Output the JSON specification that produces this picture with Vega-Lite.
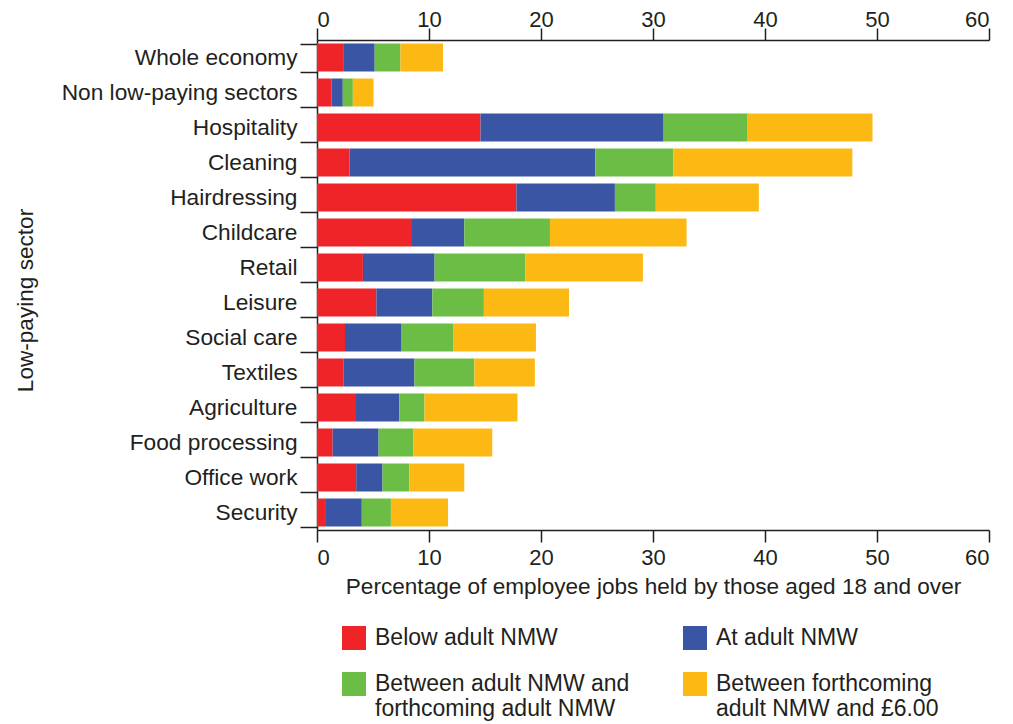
{
  "$schema": "https://vega.github.io/schema/vega-lite/v6.json",
  "width": 672,
  "height": 490,
  "autosize": "none",
  "padding": {"left": 317, "top": 40, "right": 24, "bottom": 194},
  "config": {
    "font": "Liberation Sans",
    "view": {"stroke": null},
    "axis": {
      "labelFont": "Liberation Sans",
      "titleFont": "Liberation Sans",
      "labelFontSize": 22,
      "titleFontSize": 22.6,
      "titleFontWeight": "normal",
      "labelColor": "#231f20",
      "titleColor": "#231f20",
      "domainColor": "#231f20",
      "domainWidth": 1.5,
      "tickColor": "#231f20",
      "tickWidth": 1.5,
      "grid": false
    },
    "legend": {
      "labelFont": "Liberation Sans",
      "labelFontSize": 23,
      "labelColor": "#231f20"
    }
  },
  "data": {
    "values": [
      {"sector": "Whole economy", "band": "Below adult NMW", "pct": 2.4, "seg": 1},
      {"sector": "Whole economy", "band": "At adult NMW", "pct": 2.75, "seg": 2},
      {"sector": "Whole economy", "band": "Between adult NMW and forthcoming adult NMW", "pct": 2.3, "seg": 3},
      {"sector": "Whole economy", "band": "Between forthcoming adult NMW and £6.00", "pct": 3.8, "seg": 4},
      {"sector": "Non low-paying sectors", "band": "Below adult NMW", "pct": 1.3, "seg": 1},
      {"sector": "Non low-paying sectors", "band": "At adult NMW", "pct": 1.0, "seg": 2},
      {"sector": "Non low-paying sectors", "band": "Between adult NMW and forthcoming adult NMW", "pct": 0.9, "seg": 3},
      {"sector": "Non low-paying sectors", "band": "Between forthcoming adult NMW and £6.00", "pct": 1.85, "seg": 4},
      {"sector": "Hospitality", "band": "Below adult NMW", "pct": 14.6, "seg": 1},
      {"sector": "Hospitality", "band": "At adult NMW", "pct": 16.35, "seg": 2},
      {"sector": "Hospitality", "band": "Between adult NMW and forthcoming adult NMW", "pct": 7.5, "seg": 3},
      {"sector": "Hospitality", "band": "Between forthcoming adult NMW and £6.00", "pct": 11.15, "seg": 4},
      {"sector": "Cleaning", "band": "Below adult NMW", "pct": 2.9, "seg": 1},
      {"sector": "Cleaning", "band": "At adult NMW", "pct": 21.95, "seg": 2},
      {"sector": "Cleaning", "band": "Between adult NMW and forthcoming adult NMW", "pct": 6.95, "seg": 3},
      {"sector": "Cleaning", "band": "Between forthcoming adult NMW and £6.00", "pct": 16.0, "seg": 4},
      {"sector": "Hairdressing", "band": "Below adult NMW", "pct": 17.8, "seg": 1},
      {"sector": "Hairdressing", "band": "At adult NMW", "pct": 8.8, "seg": 2},
      {"sector": "Hairdressing", "band": "Between adult NMW and forthcoming adult NMW", "pct": 3.65, "seg": 3},
      {"sector": "Hairdressing", "band": "Between forthcoming adult NMW and £6.00", "pct": 9.2, "seg": 4},
      {"sector": "Childcare", "band": "Below adult NMW", "pct": 8.4, "seg": 1},
      {"sector": "Childcare", "band": "At adult NMW", "pct": 4.75, "seg": 2},
      {"sector": "Childcare", "band": "Between adult NMW and forthcoming adult NMW", "pct": 7.65, "seg": 3},
      {"sector": "Childcare", "band": "Between forthcoming adult NMW and £6.00", "pct": 12.2, "seg": 4},
      {"sector": "Retail", "band": "Below adult NMW", "pct": 4.1, "seg": 1},
      {"sector": "Retail", "band": "At adult NMW", "pct": 6.4, "seg": 2},
      {"sector": "Retail", "band": "Between adult NMW and forthcoming adult NMW", "pct": 8.1, "seg": 3},
      {"sector": "Retail", "band": "Between forthcoming adult NMW and £6.00", "pct": 10.5, "seg": 4},
      {"sector": "Leisure", "band": "Below adult NMW", "pct": 5.3, "seg": 1},
      {"sector": "Leisure", "band": "At adult NMW", "pct": 5.0, "seg": 2},
      {"sector": "Leisure", "band": "Between adult NMW and forthcoming adult NMW", "pct": 4.6, "seg": 3},
      {"sector": "Leisure", "band": "Between forthcoming adult NMW and £6.00", "pct": 7.6, "seg": 4},
      {"sector": "Social care", "band": "Below adult NMW", "pct": 2.5, "seg": 1},
      {"sector": "Social care", "band": "At adult NMW", "pct": 5.0, "seg": 2},
      {"sector": "Social care", "band": "Between adult NMW and forthcoming adult NMW", "pct": 4.65, "seg": 3},
      {"sector": "Social care", "band": "Between forthcoming adult NMW and £6.00", "pct": 7.4, "seg": 4},
      {"sector": "Textiles", "band": "Below adult NMW", "pct": 2.35, "seg": 1},
      {"sector": "Textiles", "band": "At adult NMW", "pct": 6.35, "seg": 2},
      {"sector": "Textiles", "band": "Between adult NMW and forthcoming adult NMW", "pct": 5.35, "seg": 3},
      {"sector": "Textiles", "band": "Between forthcoming adult NMW and £6.00", "pct": 5.4, "seg": 4},
      {"sector": "Agriculture", "band": "Below adult NMW", "pct": 3.4, "seg": 1},
      {"sector": "Agriculture", "band": "At adult NMW", "pct": 3.95, "seg": 2},
      {"sector": "Agriculture", "band": "Between adult NMW and forthcoming adult NMW", "pct": 2.25, "seg": 3},
      {"sector": "Agriculture", "band": "Between forthcoming adult NMW and £6.00", "pct": 8.3, "seg": 4},
      {"sector": "Food processing", "band": "Below adult NMW", "pct": 1.4, "seg": 1},
      {"sector": "Food processing", "band": "At adult NMW", "pct": 4.1, "seg": 2},
      {"sector": "Food processing", "band": "Between adult NMW and forthcoming adult NMW", "pct": 3.1, "seg": 3},
      {"sector": "Food processing", "band": "Between forthcoming adult NMW and £6.00", "pct": 7.05, "seg": 4},
      {"sector": "Office work", "band": "Below adult NMW", "pct": 3.5, "seg": 1},
      {"sector": "Office work", "band": "At adult NMW", "pct": 2.35, "seg": 2},
      {"sector": "Office work", "band": "Between adult NMW and forthcoming adult NMW", "pct": 2.4, "seg": 3},
      {"sector": "Office work", "band": "Between forthcoming adult NMW and £6.00", "pct": 4.9, "seg": 4},
      {"sector": "Security", "band": "Below adult NMW", "pct": 0.8, "seg": 1},
      {"sector": "Security", "band": "At adult NMW", "pct": 3.2, "seg": 2},
      {"sector": "Security", "band": "Between adult NMW and forthcoming adult NMW", "pct": 2.6, "seg": 3},
      {"sector": "Security", "band": "Between forthcoming adult NMW and £6.00", "pct": 5.1, "seg": 4}
    ]
  },
  "encoding": {
    "y": {
      "field": "sector",
      "type": "nominal",
      "sort": ["Whole economy", "Non low-paying sectors", "Hospitality", "Cleaning", "Hairdressing", "Childcare", "Retail", "Leisure", "Social care", "Textiles", "Agriculture", "Food processing", "Office work", "Security"],
      "scale": {"paddingInner": 0.2, "paddingOuter": 0.1},
      "axis": {
        "title": "Low-paying sector",
        "tickBand": "extent",
        "tickSize": 17,
        "labelPadding": 3,
        "labelFontSize": 22.7,
        "titleAngle": -90,
        "titleX": -292,
        "titleY": 260,
        "titleAlign": "center",
        "titleBaseline": "middle",
        "labelLimit": 400
      }
    }
  },
  "layer": [
    {
      "mark": {"type": "bar"},
      "encoding": {
        "x": {
          "field": "pct",
          "type": "quantitative",
          "stack": "zero",
          "scale": {"domain": [0, 60], "nice": false},
          "axis": {
            "orient": "bottom",
            "values": [0, 10, 20, 30, 40, 50, 60],
            "tickSize": 12,
            "labelPadding": 5,
            "title": "Percentage of employee jobs held by those aged 18 and over",
            "titleX": 336,
            "titleY": 56,
            "titleAlign": "center",
            "titleBaseline": "middle"
          }
        },
        "color": {
          "field": "band",
          "type": "nominal",
          "scale": {
            "domain": ["Below adult NMW", "At adult NMW", "Between adult NMW and forthcoming adult NMW", "Between forthcoming adult NMW and £6.00"],
            "range": ["#EE2428", "#3A55A4", "#6CBD45", "#FDB913"]
          },
          "legend": {
            "title": null,
            "orient": "none",
            "direction": "horizontal",
            "legendX": 25,
            "legendY": 586,
            "columns": 2,
            "columnPadding": 53,
            "rowPadding": 22,
            "padding": 0,
            "symbolType": "square",
            "symbolSize": 576,
            "symbolStrokeWidth": 0,
            "labelOffset": 9,
            "labelLimit": 400,
            "labelBaseline": "middle",
            "labelExpr": "datum.label == 'Between adult NMW and forthcoming adult NMW' ? ['Between adult NMW and', 'forthcoming adult NMW'] : datum.label == 'Between forthcoming adult NMW and £6.00' ? ['Between forthcoming', 'adult NMW and £6.00'] : datum.label"
          }
        },
        "order": {"field": "seg"}
      }
    },
    {
      "mark": {"type": "bar", "opacity": 0},
      "encoding": {
        "x": {
          "field": "pct",
          "type": "quantitative",
          "stack": "zero",
          "scale": {"domain": [0, 60], "nice": false},
          "axis": {
            "orient": "top",
            "values": [0, 10, 20, 30, 40, 50, 60],
            "tickSize": 12,
            "labelPadding": 2,
            "labelBaseline": "alphabetic",
            "title": null
          }
        },
        "detail": {"field": "band"}
      }
    }
  ],
  "resolve": {"axis": {"x": "independent"}}
}
